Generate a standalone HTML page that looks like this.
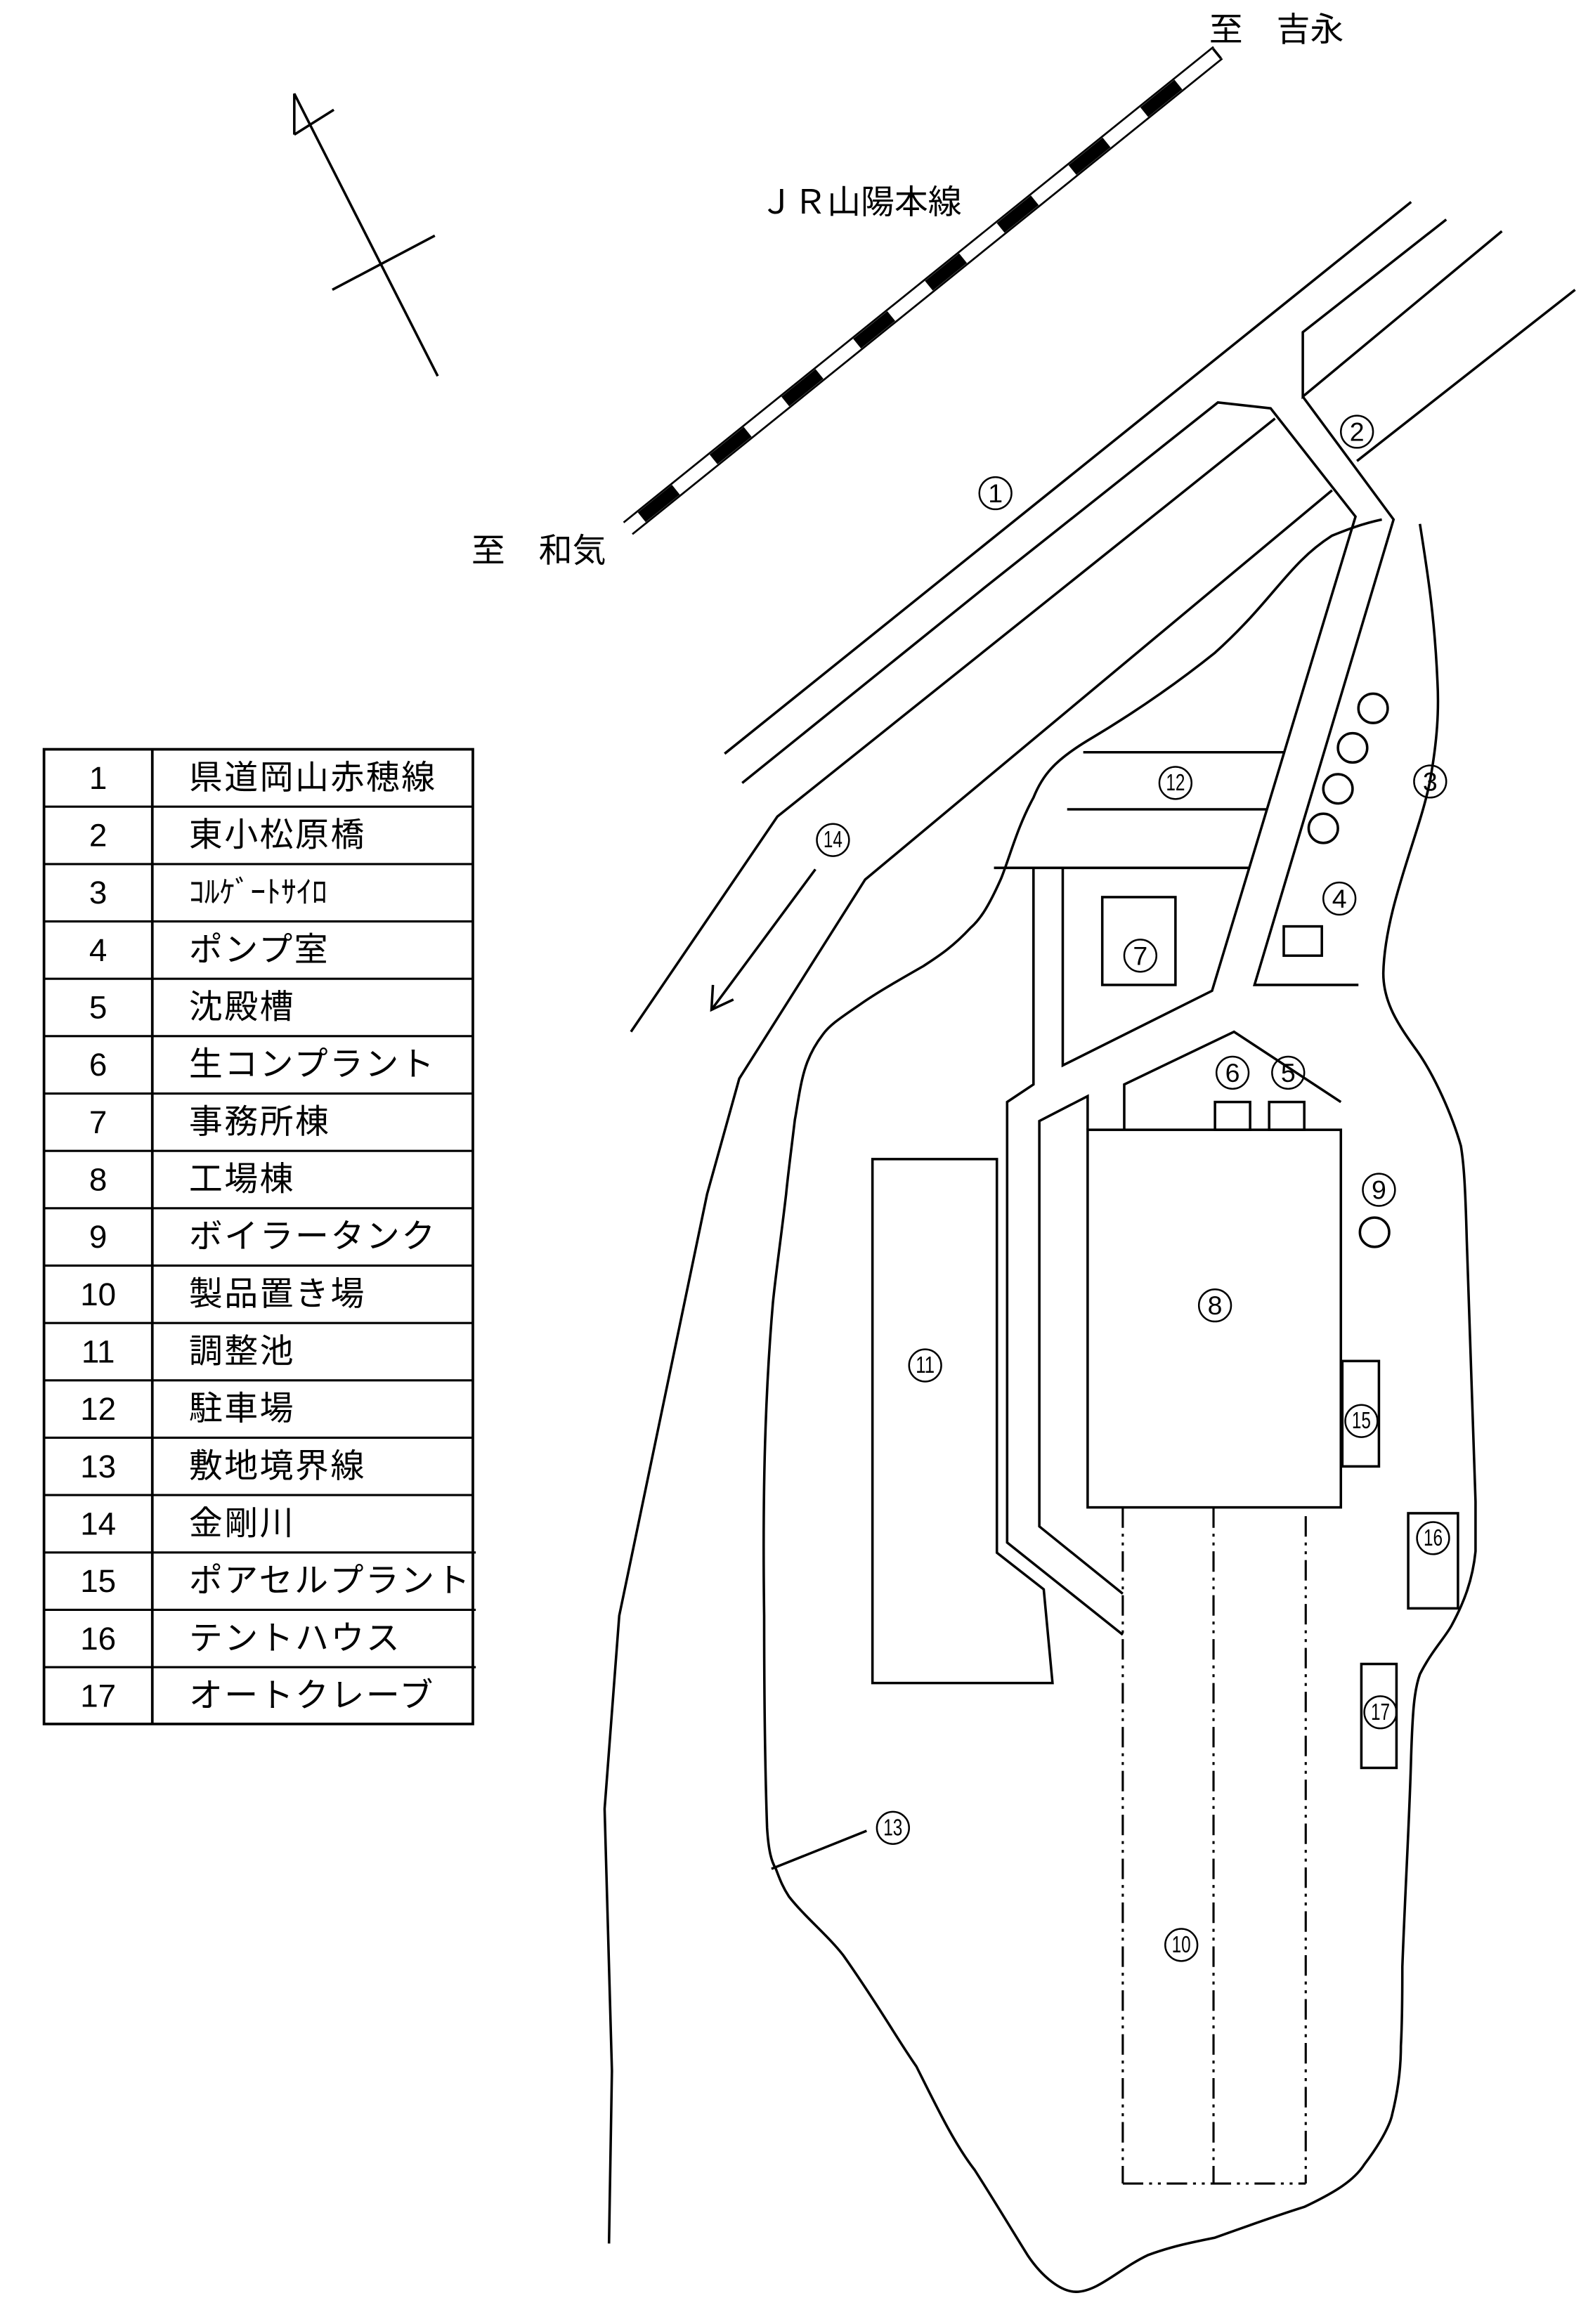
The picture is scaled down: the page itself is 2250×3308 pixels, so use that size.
<!DOCTYPE html>
<html><head><meta charset="utf-8"><style>
html,body{margin:0;padding:0;background:#fff;}
svg{display:block;}
text{font-family:"Liberation Sans","Noto Sans CJK JP",sans-serif;fill:#000;}
.n circle{fill:none;stroke:#000;stroke-width:1.2;}
.n text{font-size:18px;text-anchor:middle;dominant-baseline:central;}
.n text.d{font-size:16px;}
</style></head><body>
<svg width="2250" height="3308" viewBox="0 0 1080 1588" xmlns="http://www.w3.org/2000/svg">
<g fill="none" stroke="#000" stroke-width="1.7" stroke-linejoin="miter">
<polyline points="201,92 201,64 299,257"/>
<line x1="201" y1="92" x2="228" y2="75"/>
<line x1="227" y1="198" x2="297" y2="161"/>
<line x1="829" y1="32" x2="426" y2="357" stroke-width="1.3"/>
<line x1="835" y1="40" x2="432" y2="365" stroke-width="1.3"/>
<line x1="832" y1="36" x2="429" y2="361" stroke-width="8.5" stroke-dasharray="30 33" stroke-dashoffset="28.3" stroke-linecap="butt"/>
<line x1="495" y1="515" x2="964" y2="138"/>
<polyline points="507,535 672,402 832,275 868,279 926,353 828,677 726,728 726,593"/>
<polyline points="988,150 890,227 890,271 1026,158"/>
<polyline points="890,271 952,355 857,673 928,673"/>
<line x1="927" y1="315" x2="1076" y2="198"/>
<polyline points="431,705 531,558 871,286"/>
<polyline points="910,335 591,601 505,737 483,816 423,1104 413,1236 418,1415 416,1533"/>
<line x1="740" y1="514" x2="877" y2="514"/>
<line x1="729" y1="553" x2="865" y2="553"/>
<line x1="679" y1="593" x2="853" y2="593"/>
<polyline points="706,593 706,741 688,753 688,1054 767,1117"/>
<polyline points="743,772 743,749 710,766 710,1043 767,1089"/>
<polyline points="768,772 768,741 843,705 916,753"/>
<path d="M944,355 C930,358 920,362 910,366 C880,385 870,410 830,446 C800,470 770,490 743,506 C720,520 712,530 706,545 C695,565 690,585 684,600 C676,618 670,628 663,634 C650,648 640,654 631,660 C610,672 598,679 588,686 C575,695 567,700 562,707 C552,720 549,732 547,742 C545,752 544,760 543,765 C540,790 538,805 537,816 C533,850 530,870 528,890 C522,960 521,1030 522,1104 C522,1170 523,1220 524,1249 C525,1265 527,1272 530,1277 C533,1285 535,1290 539,1296 C550,1310 565,1322 576,1336 C600,1370 614,1395 626,1412 C640,1440 652,1465 666,1483 C680,1505 692,1525 702,1541 C712,1556 725,1566 735,1566 C750,1566 765,1550 784,1541 C800,1535 815,1532 830,1529 C855,1520 875,1513 891,1508 C912,1498 925,1490 932,1479 C945,1462 950,1450 951,1445 C956,1425 957,1410 957,1398 C958,1380 958,1360 958,1344 C960,1290 963,1240 964,1200 C965,1170 966,1155 970,1144 C978,1128 988,1118 992,1110 C1000,1095 1006,1080 1008,1060 C1008,1040 1008,1030 1008,1026 C1006,960 1004,900 1002,847 C1001,810 1000,795 998,783 C992,762 980,735 968,718 C955,700 945,685 945,665 C946,620 970,570 977,533 C982,505 983,485 982,466 C980,420 975,390 970,358"/>
<line x1="527" y1="1277" x2="592" y2="1251"/>
<line x1="557" y1="594" x2="486" y2="690"/>
<polyline points="487,673 486,690 501,683"/>
<rect x="877" y="633" width="26" height="20"/>
<rect x="753" y="613" width="50" height="60"/>
<rect x="743" y="772" width="173" height="258"/>
<rect x="830" y="753" width="24" height="19"/>
<rect x="867" y="753" width="24" height="19"/>
<polygon points="596,792 681,792 681,1061 713,1086 719,1150 596,1150"/>
<rect x="917" y="930" width="25" height="72"/>
<rect x="962" y="1034" width="34" height="65"/>
<rect x="930" y="1137" width="24" height="71"/>
<circle cx="938" cy="484" r="10"/>
<circle cx="924" cy="511" r="10"/>
<circle cx="914" cy="539" r="10"/>
<circle cx="904" cy="566" r="10"/>
<circle cx="939" cy="842" r="10"/>
<g stroke-width="1.5" stroke-dasharray="14 4 2 4 2 4">
<line x1="767" y1="1030" x2="767" y2="1492"/>
<line x1="829" y1="1030" x2="829" y2="1492"/>
<line x1="892" y1="1036" x2="892" y2="1492"/>
<line x1="767" y1="1492" x2="892" y2="1492"/>
</g>
<rect x="30" y="512" width="293" height="666" stroke-width="1.8"/>
<line x1="104" y1="512" x2="104" y2="1178" stroke-width="1.8"/>
</g>
<g stroke="#000" stroke-width="1.5">
<line x1="30" y1="551.2" x2="323" y2="551.2"/><line x1="30" y1="590.4" x2="323" y2="590.4"/>
<line x1="30" y1="629.6" x2="323" y2="629.6"/><line x1="30" y1="668.8" x2="323" y2="668.8"/>
<line x1="30" y1="708" x2="323" y2="708"/><line x1="30" y1="747.2" x2="323" y2="747.2"/>
<line x1="30" y1="786.4" x2="323" y2="786.4"/><line x1="30" y1="825.6" x2="323" y2="825.6"/>
<line x1="30" y1="864.8" x2="323" y2="864.8"/><line x1="30" y1="904" x2="323" y2="904"/>
<line x1="30" y1="943.2" x2="323" y2="943.2"/><line x1="30" y1="982.4" x2="323" y2="982.4"/>
<line x1="30" y1="1021.6" x2="323" y2="1021.6"/><line x1="30" y1="1060.8" x2="325" y2="1060.8"/>
<line x1="30" y1="1100" x2="325" y2="1100"/><line x1="30" y1="1139.2" x2="325" y2="1139.2"/>
</g>
<g font-size="22" dominant-baseline="central">
<g text-anchor="middle">
<text x="67" y="531.6">1</text><text x="67" y="570.8">2</text><text x="67" y="610">3</text>
<text x="67" y="649.2">4</text><text x="67" y="688.4">5</text><text x="67" y="727.6">6</text>
<text x="67" y="766.8">7</text><text x="67" y="806">8</text><text x="67" y="845.2">9</text>
<text x="67" y="884.4">10</text><text x="67" y="923.6">11</text><text x="67" y="962.8">12</text>
<text x="67" y="1002">13</text><text x="67" y="1041.2">14</text><text x="67" y="1080.4">15</text>
<text x="67" y="1119.6">16</text><text x="67" y="1158.8">17</text>
</g>
<g font-size="23" letter-spacing="1.2">
<text x="129" y="531.6">県道岡山赤穂線</text>
<text x="129" y="570.8">東小松原橋</text>
<text x="129" y="610" font-size="21" letter-spacing="0">ｺﾙｹﾞｰﾄｻｲﾛ</text>
<text x="129" y="649.2">ポンプ室</text>
<text x="129" y="688.4">沈殿槽</text>
<text x="129" y="727.6">生コンプラント</text>
<text x="129" y="766.8">事務所棟</text>
<text x="129" y="806">工場棟</text>
<text x="129" y="845.2">ボイラータンク</text>
<text x="129" y="884.4">製品置き場</text>
<text x="129" y="923.6">調整池</text>
<text x="129" y="962.8">駐車場</text>
<text x="129" y="1002">敷地境界線</text>
<text x="129" y="1041.2">金剛川</text>
<text x="129" y="1080.4">ポアセルプラント</text>
<text x="129" y="1119.6">テントハウス</text>
<text x="129" y="1158.8">オートクレーブ</text>
</g>
</g>
<g font-size="23">
<text x="826" y="28">至　吉永</text>
<text x="519" y="146">ＪＲ山陽本線</text>
<text x="322" y="384">至　和気</text>
</g>
<g class="n">
<circle cx="680" cy="337" r="11"/><text x="680" y="337">1</text>
<circle cx="927" cy="295" r="11"/><text x="927" y="295">2</text>
<circle cx="977" cy="534" r="11"/><text x="977" y="534">3</text>
<circle cx="915" cy="614" r="11"/><text x="915" y="614">4</text>
<circle cx="880" cy="733" r="11"/><text x="880" y="733">5</text>
<circle cx="842" cy="733" r="11"/><text x="842" y="733">6</text>
<circle cx="779" cy="653" r="11"/><text x="779" y="653">7</text>
<circle cx="830" cy="892" r="11"/><text x="830" y="892">8</text>
<circle cx="942" cy="813" r="11"/><text x="942" y="813">9</text>
<circle cx="807" cy="1329" r="11"/><text class="d" x="807" y="1329" textLength="13" lengthAdjust="spacingAndGlyphs">10</text>
<circle cx="632" cy="933" r="11"/><text class="d" x="632" y="933" textLength="13" lengthAdjust="spacingAndGlyphs">11</text>
<circle cx="803" cy="535" r="11"/><text class="d" x="803" y="535" textLength="13" lengthAdjust="spacingAndGlyphs">12</text>
<circle cx="610" cy="1249" r="11"/><text class="d" x="610" y="1249" textLength="13" lengthAdjust="spacingAndGlyphs">13</text>
<circle cx="569" cy="574" r="11"/><text class="d" x="569" y="574" textLength="13" lengthAdjust="spacingAndGlyphs">14</text>
<circle cx="930" cy="971" r="11"/><text class="d" x="930" y="971" textLength="13" lengthAdjust="spacingAndGlyphs">15</text>
<circle cx="979" cy="1051" r="11"/><text class="d" x="979" y="1051" textLength="13" lengthAdjust="spacingAndGlyphs">16</text>
<circle cx="943" cy="1170" r="11"/><text class="d" x="943" y="1170" textLength="13" lengthAdjust="spacingAndGlyphs">17</text>
</g>
</svg>
</body></html>
